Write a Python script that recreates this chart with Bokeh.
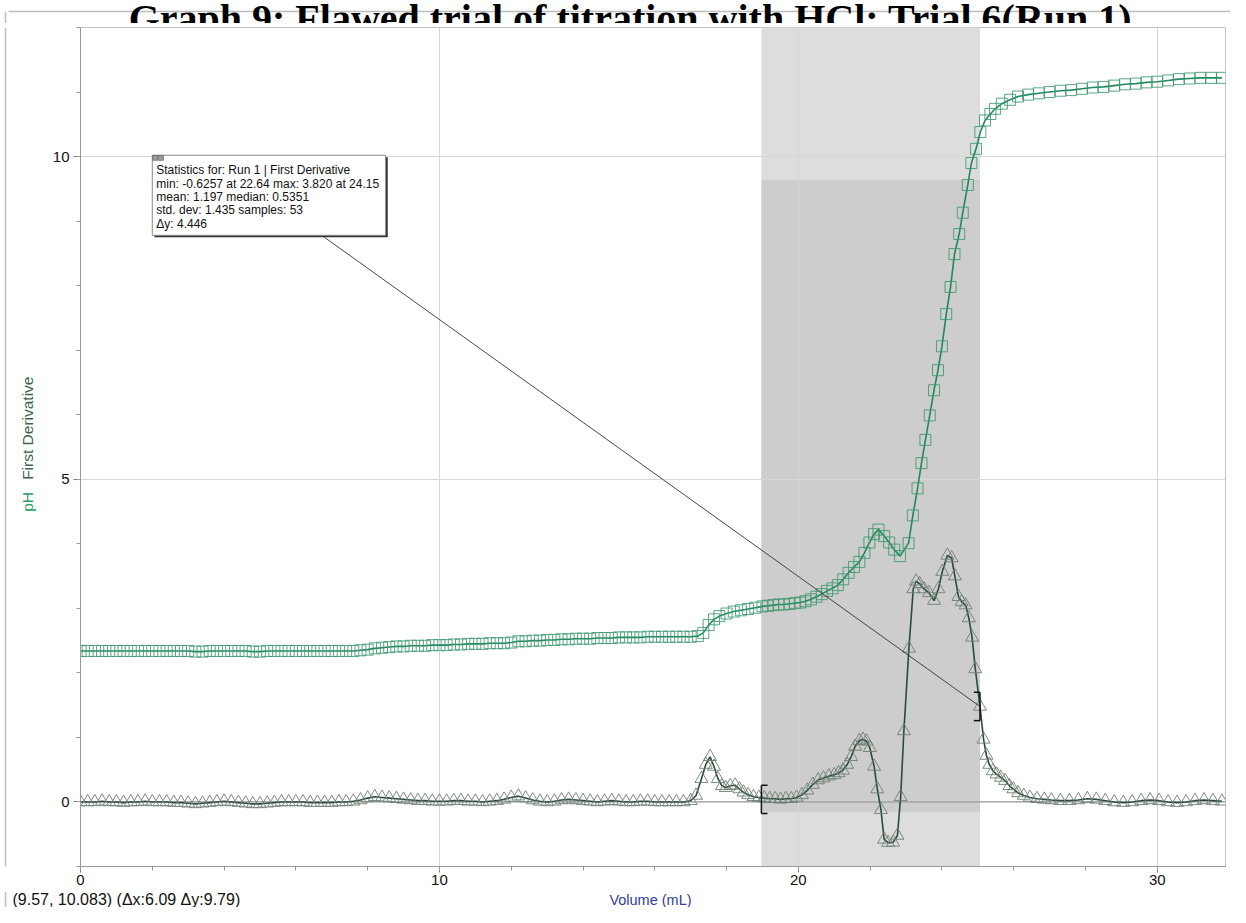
from bokeh.plotting import figure
from bokeh.models import Range1d, SingleIntervalTicker, Label, Span
from bokeh.layouts import column, row
from bokeh.embed import file_html
from bokeh.resources import INLINE

# ---------------- data ----------------
title_text = "Graph 9: Flawed trial of titration with HCl: Trial 6(Run 1)"

vol_ph = [0.0, 0.2, 0.4, 0.6, 0.8, 1.0, 1.2, 1.4, 1.6, 1.8, 2.0, 2.2, 2.4, 2.6, 2.8,
          3.0, 3.2, 3.4, 3.6, 3.8,
          4.0, 4.2, 4.4, 4.6, 4.8, 5.0, 5.2, 5.4, 5.6, 5.8, 6.0, 6.2, 6.4, 6.6, 6.8, 7.0, 7.2, 7.4, 7.6, 7.8,
          8.0, 8.2, 8.4, 8.6, 8.8, 9.0, 9.2, 9.4, 9.6, 9.8,
          10.0, 10.2, 10.4, 10.6, 10.8, 11.0, 11.2, 11.4, 11.6, 11.8,
          12.0, 12.2, 12.4, 12.6, 12.8, 13.0, 13.2, 13.4, 13.6, 13.8,
          14.0, 14.2, 14.4, 14.6, 14.8, 15.0, 15.2, 15.4, 15.6, 15.8,
          16.0, 16.2, 16.4, 16.6, 16.8, 17.0,
          17.2, 17.35, 17.5, 17.65, 17.8, 18.0, 18.2, 18.4, 18.6, 18.8,
          19.0, 19.15, 19.3, 19.45, 19.6, 19.75, 19.9, 20.05, 20.2, 20.35,
          20.5, 20.65, 20.8, 20.95, 21.1, 21.25, 21.4, 21.55, 21.7, 21.84,
          21.98, 22.11, 22.23, 22.39, 22.53, 22.67, 22.83, 23.07, 23.19, 23.32,
          23.43, 23.54, 23.66, 23.78, 23.89, 24.0, 24.12, 24.24, 24.35, 24.48,
          24.58, 24.72, 24.82, 24.95, 25.07, 25.2, 25.35, 25.48, 25.67, 25.9,
          26.12, 26.4, 26.7, 27.0, 27.3, 27.6, 27.9, 28.2, 28.5, 28.8,
          29.1, 29.4, 29.7, 30.0, 30.3, 30.6, 30.9, 31.2, 31.5, 31.8]

ph = [2.34, 2.34, 2.34, 2.34, 2.34, 2.34, 2.34, 2.34, 2.34, 2.34, 2.34, 2.34, 2.34, 2.34, 2.34,
      2.34, 2.33, 2.33, 2.34, 2.34,
      2.34, 2.34, 2.34, 2.34, 2.33, 2.33, 2.34, 2.34, 2.34, 2.34, 2.34, 2.34, 2.34, 2.34, 2.34, 2.34, 2.34, 2.34, 2.34, 2.35,
      2.36, 2.38, 2.39, 2.40, 2.41, 2.41, 2.42, 2.42, 2.42, 2.43,
      2.43, 2.43, 2.44, 2.44, 2.45, 2.45, 2.45, 2.46, 2.46, 2.46,
      2.47, 2.49, 2.49, 2.50, 2.50, 2.51, 2.51, 2.52, 2.52, 2.53,
      2.53, 2.53, 2.54, 2.54, 2.54, 2.55, 2.55, 2.55, 2.55, 2.56,
      2.56, 2.56, 2.56, 2.56, 2.56, 2.56,
      2.57, 2.62, 2.74, 2.83, 2.88, 2.92, 2.95, 2.97, 2.99, 3.01,
      3.03, 3.04, 3.05, 3.06, 3.06, 3.07, 3.08, 3.09, 3.11, 3.14,
      3.18, 3.22, 3.27, 3.31, 3.36, 3.45, 3.55, 3.64, 3.72, 3.86,
      4.02, 4.15, 4.22, 4.12, 4.02, 3.91, 3.81, 4.01, 4.44, 4.86,
      5.25, 5.61, 5.99, 6.38, 6.69, 7.06, 7.56, 7.98, 8.49, 8.80,
      9.13, 9.56, 9.90, 10.12, 10.38, 10.56, 10.66, 10.74, 10.82, 10.88,
      10.93, 10.96, 10.98, 11.00, 11.02, 11.03, 11.05, 11.07, 11.08, 11.10,
      11.12, 11.13, 11.15, 11.16, 11.18, 11.20, 11.21, 11.22, 11.22, 11.22]

vol_d = [0.0, 0.2, 0.4, 0.6, 0.8, 1.0, 1.2, 1.4, 1.6, 1.8, 2.0, 2.2, 2.4, 2.6, 2.8,
         3.0, 3.2, 3.4, 3.6, 3.8,
         4.0, 4.2, 4.4, 4.6, 4.8, 5.0, 5.2, 5.4, 5.6, 5.8, 6.0, 6.2, 6.4, 6.6, 6.8, 7.0, 7.2, 7.4, 7.6, 7.8,
         8.0, 8.2, 8.4, 8.6, 8.8, 9.0, 9.2, 9.4, 9.6, 9.8,
         10.0, 10.2, 10.4, 10.6, 10.8, 11.0, 11.2, 11.4, 11.6, 11.8,
         12.0, 12.2, 12.4, 12.6, 12.8, 13.0, 13.2, 13.4, 13.6, 13.8,
         14.0, 14.2, 14.4, 14.6, 14.8, 15.0, 15.2, 15.4, 15.6, 15.8,
         16.0, 16.2, 16.4, 16.6, 16.8, 17.0,
         17.15, 17.3, 17.42, 17.54, 17.65, 17.76, 17.87, 17.98, 18.1, 18.24,
         18.36, 18.47, 18.6, 18.75, 18.9, 19.05, 19.2, 19.35, 19.5, 19.65,
         19.8, 19.95, 20.1, 20.25, 20.4, 20.55, 20.7, 20.85, 21.0, 21.12,
         21.24, 21.36, 21.47, 21.58, 21.7, 21.8, 21.9, 21.99, 22.11, 22.2,
         22.3, 22.39, 22.5, 22.64, 22.76, 22.85, 22.94, 23.08, 23.2, 23.28,
         23.38, 23.5, 23.64, 23.78, 23.9, 24.01, 24.15, 24.27, 24.36, 24.46,
         24.55, 24.66, 24.75, 24.84, 24.93, 25.06, 25.16, 25.24, 25.32, 25.42,
         25.52, 25.64, 25.76, 25.88, 25.99, 26.12, 26.28, 26.45, 26.65, 26.85,
         27.05, 27.3, 27.55, 27.8, 28.05, 28.3, 28.55, 28.8, 29.05, 29.3,
         29.55, 29.8, 30.05, 30.3, 30.55, 30.8, 31.05, 31.3, 31.55, 31.8]

dpdv = [0.0, 0.0, 0.0, 0.01, 0.0, 0.0, -0.01, 0.0, 0.0, 0.01, 0.0, 0.0, 0.0, -0.01, -0.01,
        -0.02, -0.03, -0.02, -0.01, 0.0,
        0.01, 0.0, -0.01, -0.02, -0.03, -0.03, -0.02, -0.01, 0.0, 0.0, 0.0, 0.0, -0.01, -0.01, -0.01, -0.01, 0.0, 0.0, 0.01, 0.03,
        0.06, 0.08, 0.07, 0.06, 0.05, 0.04, 0.03, 0.02, 0.02, 0.01,
        0.01, 0.01, 0.02, 0.02, 0.01, 0.01, 0.0, 0.01, 0.02, 0.04,
        0.07, 0.09, 0.06, 0.03, 0.01, 0.0, 0.01, 0.03, 0.04, 0.03,
        0.02, 0.01, 0.0, 0.01, 0.02, 0.01, 0.0, 0.0, 0.01, 0.01,
        0.0, 0.0, 0.0, 0.0, 0.0, 0.02,
        0.10, 0.36, 0.58, 0.70, 0.55, 0.36, 0.25, 0.22, 0.25, 0.26,
        0.20, 0.15, 0.11, 0.08, 0.07, 0.06, 0.05, 0.05, 0.04, 0.05,
        0.05, 0.07, 0.11, 0.18, 0.27, 0.34, 0.37, 0.40, 0.42, 0.45,
        0.49, 0.58, 0.70, 0.86, 0.95, 0.97, 0.94, 0.84, 0.55, 0.20,
        -0.12, -0.58, -0.63, -0.6257, -0.52, 0.08, 1.10, 2.38, 3.30, 3.42,
        3.38, 3.30, 3.24, 3.12, 3.30, 3.57, 3.82, 3.78, 3.50, 3.18,
        3.10, 3.05, 2.85, 2.55, 2.06, 1.48, 0.97, 0.72, 0.58, 0.48,
        0.43, 0.38, 0.33, 0.25, 0.20, 0.14, 0.10, 0.07, 0.05, 0.04,
        0.03, 0.02, 0.02, 0.03, 0.05, 0.04, 0.02, 0.0, -0.01, 0.0,
        0.02, 0.03, 0.02, 0.0, -0.01, 0.0, 0.02, 0.03, 0.02, 0.01]

# selection (examine region) and statistics box
sel_x0, sel_x1 = 18.97, 25.06
sel_y0, sel_y1 = -0.15, 9.64
sel_end_y = 1.48
stats_lines = [
    "Statistics for: Run 1 | First Derivative",
    "min: -0.6257 at 22.64 max: 3.820 at 24.15",
    "mean: 1.197 median: 0.5351",
    "std. dev: 1.435 samples: 53",
    "\u0394y: 4.446",
]
box_x0, box_x1, box_y0, box_y1 = 2.0, 8.5, 8.78, 10.02
leader_x0 = 6.72
readout = "(9.57, 10.083) (\u0394x:6.09 \u0394y:9.79)"
x_label = "Volume (mL)"
y_label_1, y_label_2 = "pH", "First Derivative"

X0, X1, Y0, Y1 = 0.0, 31.9, -1.0, 12.0

# ---------------- layout sizes (px) ----------------
TOTAL_W = 1230
TOP_H = 23
LEFT_W = 48
MAIN_W = TOTAL_W - LEFT_W
MAIN_H = 868
BOTTOM_H = 16
BORDER = "#bdbdbd"


def blank(w, h):
    f = figure(width=w, height=h, x_range=Range1d(0, w), y_range=Range1d(0, h),
               x_axis_type=None, y_axis_type=None, output_backend="svg",
               toolbar_location=None, min_border=0)
    f.outline_line_color = None
    f.background_fill_color = "white"
    f.border_fill_color = "white"
    return f


# ---------------- main figure ----------------
p = figure(width=MAIN_W, height=MAIN_H, x_range=Range1d(X0, X1), y_range=Range1d(Y0, Y1),
           output_backend="svg", toolbar_location=None,
           min_border_left=32, min_border_right=5, min_border_top=4, min_border_bottom=25)
p.background_fill_color = "white"
p.border_fill_color = "white"
p.outline_line_color = "#c4c4c4"

p.xaxis.ticker = SingleIntervalTicker(interval=10, num_minor_ticks=5)
p.yaxis.ticker = SingleIntervalTicker(interval=5, num_minor_ticks=5)
for ax in (p.xaxis[0], p.yaxis[0]):
    ax.axis_line_color = "#9a9a9a"
    ax.major_tick_line_color = "#777777"
    ax.minor_tick_line_color = "#999999"
    ax.major_tick_in = 0
    ax.minor_tick_in = 0
    ax.minor_tick_out = 4
    ax.major_label_text_font = "Liberation Sans"
    ax.major_label_text_font_size = "15px"
    ax.major_label_text_color = "#111111"
p.xaxis.major_tick_out = 6
p.yaxis.major_tick_out = 7
p.xaxis.major_label_standoff = 2
p.yaxis.major_label_standoff = 4

p.xgrid.grid_line_color = "#d6d6d6"
p.ygrid.grid_line_color = "#d6d6d6"

# shaded selection
p.quad(left=[sel_x0], right=[sel_x1], bottom=[Y0], top=[Y1],
       fill_color="#dddddd", line_color=None, level="image")
p.quad(left=[sel_x0], right=[sel_x1], bottom=[sel_y0], top=[sel_y1],
       fill_color="#cdcdcd", line_color=None, level="image")

p.add_layout(Span(location=0, dimension="width", line_color="#8c8c8c", line_width=1, level="underlay"))

# derivative series
p.line(vol_d, dpdv, line_color="#2c4a3a", line_width=1.6)
p.scatter(vol_d, dpdv, marker="triangle", size=13, fill_color=None,
          line_color="#6f7f74", line_width=1, line_alpha=0.9)

# pH series
p.line(vol_ph, ph, line_color="#1f8a5c", line_width=1.6)
p.scatter(vol_ph, ph, marker="square", size=11, fill_color=None,
          line_color="#3c9670", line_width=1, line_alpha=0.85)

# selection brackets
bw = 0.17
bh = 0.22
p.segment(x0=[sel_x0, sel_x0, sel_x0], y0=[-bh + 0.04, -bh + 0.04, bh + 0.04],
          x1=[sel_x0, sel_x0 + bw, sel_x0 + bw], y1=[bh + 0.04, -bh + 0.04, bh + 0.04],
          line_color="#111111", line_width=1.5)
p.segment(x0=[sel_x1, sel_x1, sel_x1], y0=[sel_end_y - bh, sel_end_y - bh, sel_end_y + bh],
          x1=[sel_x1, sel_x1 - bw, sel_x1 - bw], y1=[sel_end_y + bh, sel_end_y - bh, sel_end_y + bh],
          line_color="#111111", line_width=1.5)

# leader line from stats box to selection end
p.segment(x0=[leader_x0], y0=[box_y0], x1=[sel_x1], y1=[sel_end_y],
          line_color="#333333", line_width=0.9)

# stats box with shadow
p.quad(left=[box_x0 + 0.06], right=[box_x1 + 0.06], bottom=[box_y0 - 0.03], top=[box_y1 - 0.03],
       fill_color="#333333", line_color=None)
p.quad(left=[box_x0], right=[box_x1], bottom=[box_y0], top=[box_y1],
       fill_color="white", line_color="#8a8a8a", line_width=1)
p.scatter(x=[box_x0 + 0.08, box_x0 + 0.24], y=[box_y1 - 0.04, box_y1 - 0.04], marker="square",
          size=5, fill_color="#9a9a9a", line_color="#555555", line_width=0.6)

for i, t in enumerate(stats_lines):
    p.add_layout(Label(x=box_x0, y=box_y1, x_offset=4, y_offset=-(15 + 13.4 * i), text=t,
                       text_font="Liberation Sans", text_font_size="12px", text_color="#111111",
                       text_baseline="middle", text_align="left"))

# ---------------- top strip: cropped title ----------------
top = blank(TOTAL_W, TOP_H)
top.segment(x0=[8], y0=[TOP_H - 11], x1=[TOTAL_W], y1=[TOP_H - 11], line_color=BORDER, line_width=1.5)
top.segment(x0=[5], y0=[0], x1=[5], y1=[TOP_H - 11], line_color=BORDER, line_width=1.5)
top.add_layout(Label(x=630, y=TOP_H - 18, text=title_text,
                     text_font="Liberation Serif", text_font_style="bold", text_font_size="40px",
                     text_color="#000000", text_align="center", text_baseline="alphabetic"))

# ---------------- left strip: two-colour y label ----------------
left = blank(LEFT_W, MAIN_H)
left.segment(x0=[5], y0=[0], x1=[5], y1=[MAIN_H], line_color=BORDER, line_width=1.5)
left.add_layout(Label(x=27, y=MAIN_H - (524 - TOP_H), text=y_label_1, angle=1.5708,
                      text_font="Liberation Sans", text_font_size="15.5px", text_color="#2a9b6c",
                      text_align="left", text_baseline="middle"))
left.add_layout(Label(x=27, y=MAIN_H - (491 - TOP_H), text=y_label_2, angle=1.5708,
                      text_font="Liberation Sans", text_font_size="15.5px", text_color="#3f5f50",
                      text_align="left", text_baseline="middle"))

# ---------------- bottom strip: readout + x label ----------------
bottom = blank(TOTAL_W, BOTTOM_H)
bottom.segment(x0=[5], y0=[0], x1=[5], y1=[BOTTOM_H], line_color=BORDER, line_width=1.5)
bottom.add_layout(Label(x=12, y=BOTTOM_H / 2, text=readout,
                        text_font="Liberation Sans", text_font_size="16px", text_color="#111111",
                        text_align="left", text_baseline="middle"))
bottom.add_layout(Label(x=650, y=BOTTOM_H / 2, text=x_label,
                        text_font="Liberation Sans", text_font_size="14.5px", text_color="#2e3e9e",
                        text_align="center", text_baseline="middle"))

layout = column(top, row(left, p), bottom)
open("out.html", "w").write(file_html(layout, INLINE))
